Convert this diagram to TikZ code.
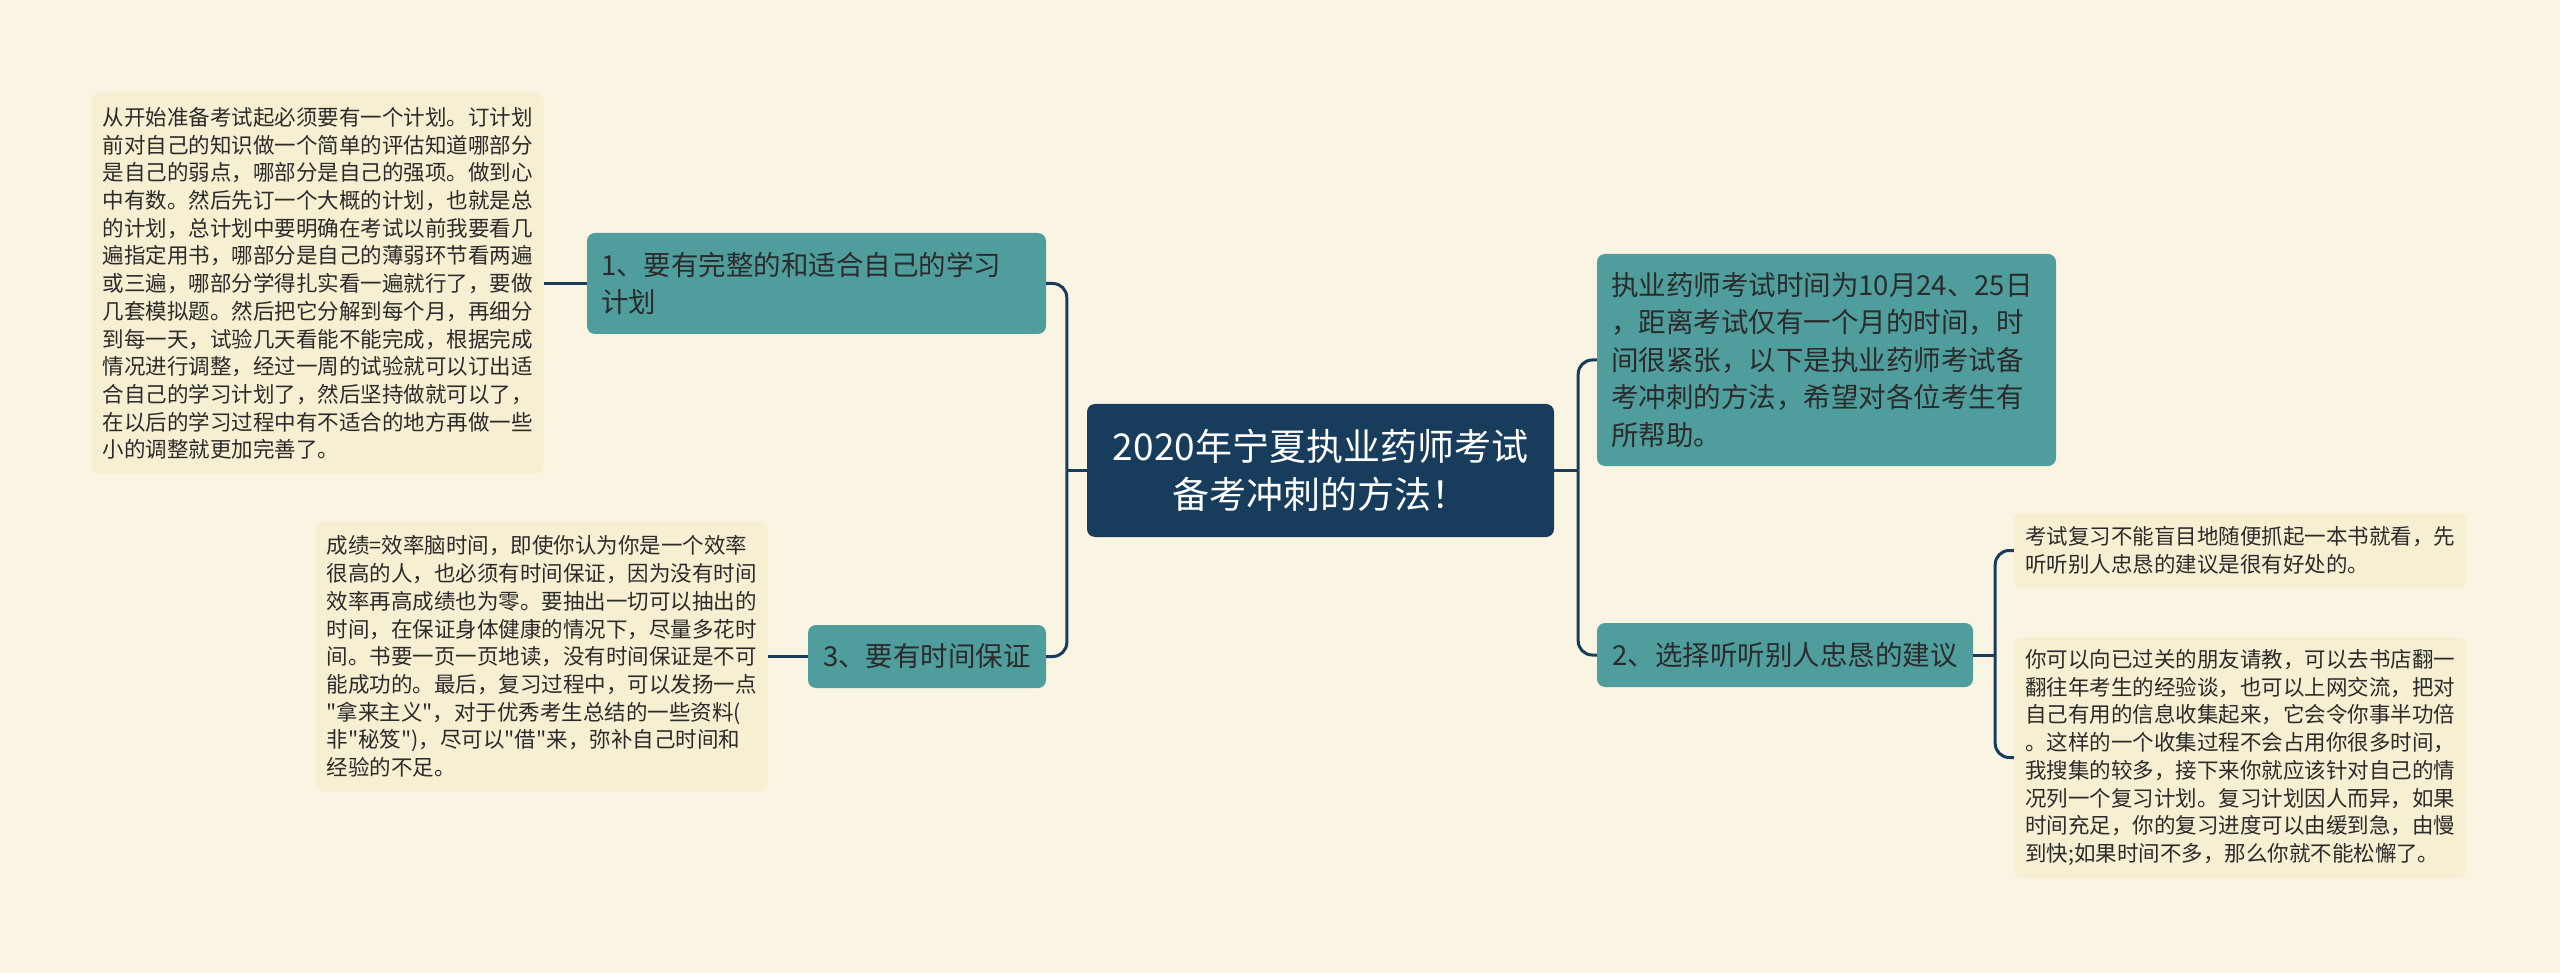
\documentclass[tikz,border=0pt]{standalone}
\usepackage{fontspec}
\newfontfamily\cjk{Noto Sans CJK SC}
\usetikzlibrary{positioning}
\definecolor{pagebg}{RGB}{250,245,226}
\definecolor{leafbg}{RGB}{246,239,210}
\definecolor{branchteal}{RGB}{79,157,157}
\definecolor{rootnavy}{RGB}{24,61,92}
\definecolor{inktext}{RGB}{43,43,43}

\begin{document}
\begin{tikzpicture}[
  x=1pt, y=-1pt,
  box/.style={rectangle, rounded corners=8pt, inner ysep=0pt},
  rootbox/.style={box, fill=rootnavy, text=white, align=center,
                  minimum width=467pt, minimum height=133pt,
                  font=\cjk\fontsize{37}{48}\selectfont},
  branch/.style={box, fill=branchteal, text=inktext, inner xsep=14pt,
                 font=\cjk\fontsize{27.5}{37.5}\selectfont},
  branchwide/.style={branch, text width=431pt, align=left},
  leaf/.style={box, fill=leafbg, text=inktext, inner xsep=11pt,
               text width=430pt, align=left,
               font=\cjk\fontsize{21.5}{27.7}\selectfont},
  conn/.style={draw=rootnavy, line width=3pt},
  trunk/.style={conn, rounded corners=14pt}
]
\useasboundingbox (0,0) rectangle (2560,973);
\fill[pagebg] (0,0) rectangle (2560,973);

% Root
\node[rootbox] (root) at (1320.5,470.5) {2020年宁夏执业药师考试\\备考冲刺的方法！};

% Left branches
\node[branchwide, minimum height=101pt] (b1) at (816.5,283.5)
  {1、要有完整的和适合自己的学习\\计划};
\node[branch, minimum width=238pt, minimum height=63pt] (b3) at (927,656.5)
  {3、要有时间保证};

% Right branches
\node[branchwide, minimum height=212pt] (intro) at (1826.5,360)
  {执业药师考试时间为10月24、25日\\，距离考试仅有一个月的时间，时\\间很紧张，以下是执业药师考试备\\考冲刺的方法，希望对各位考生有\\所帮助。};
\node[branch, minimum width=376pt, minimum height=64pt] (b2) at (1785,655)
  {2、选择听听别人忠恳的建议};

% Leaves
\node[leaf, minimum height=381pt, left=43pt of b1] (l1)
  {从开始准备考试起必须要有一个计划。订计划\\前对自己的知识做一个简单的评估知道哪部分\\是自己的弱点，哪部分是自己的强项。做到心\\中有数。然后先订一个大概的计划，也就是总\\的计划，总计划中要明确在考试以前我要看几\\遍指定用书，哪部分是自己的薄弱环节看两遍\\或三遍，哪部分学得扎实看一遍就行了，要做\\几套模拟题。然后把它分解到每个月，再细分\\到每一天，试验几天看能不能完成，根据完成\\情况进行调整，经过一周的试验就可以订出适\\合自己的学习计划了，然后坚持做就可以了，\\在以后的学习过程中有不适合的地方再做一些\\小的调整就更加完善了。};
\node[leaf, minimum height=270pt, left=40pt of b3] (l3)
  {成绩=效率脑时间，即使你认为你是一个效率\\很高的人，也必须有时间保证，因为没有时间\\效率再高成绩也为零。要抽出一切可以抽出的\\时间，在保证身体健康的情况下，尽量多花时\\间。书要一页一页地读，没有时间保证是不可\\能成功的。最后，复习过程中，可以发扬一点\\"拿来主义"，对于优秀考生总结的一些资料(\\非"秘笈")，尽可以"借"来，弥补自己时间和\\经验的不足。};
\node[leaf, minimum height=75pt] (l2a) at (2240,550.5)
  {考试复习不能盲目地随便抓起一本书就看，先\\听听别人忠恳的建议是很有好处的。};
\node[leaf, minimum height=241pt] (l2b) at (2240,757.5)
  {你可以向已过关的朋友请教，可以去书店翻一\\翻往年考生的经验谈，也可以上网交流，把对\\自己有用的信息收集起来，它会令你事半功倍\\。这样的一个收集过程不会占用你很多时间，\\我搜集的较多，接下来你就应该针对自己的情\\况列一个复习计划。复习计划因人而异，如果\\时间充足，你的复习进度可以由缓到急，由慢\\到快;如果时间不多，那么你就不能松懈了。};

% Junctions
\coordinate (lj) at ([xshift=-20pt]root.west);
\coordinate (rj) at ([xshift=24pt]root.east);
\coordinate (bj) at ([xshift=22pt]b2.east);

% Connectors
\draw[conn]  (root.west) -- (lj);
\draw[trunk] (lj) |- (b1.east);
\draw[trunk] (lj) |- (b3.east);
\draw[conn]  (root.east) -- (rj);
\draw[trunk] (rj) |- (intro.west);
\draw[trunk] (rj) |- (b2.west);
\draw[conn]  (b2.east) -- (bj);
\draw[trunk] (bj) |- (l2a.west);
\draw[trunk] (bj) |- (l2b.west);
\draw[conn]  (b1.west) -- (l1.east);
\draw[conn]  (b3.west) -- (l3.east);

\end{tikzpicture}
\end{document}
